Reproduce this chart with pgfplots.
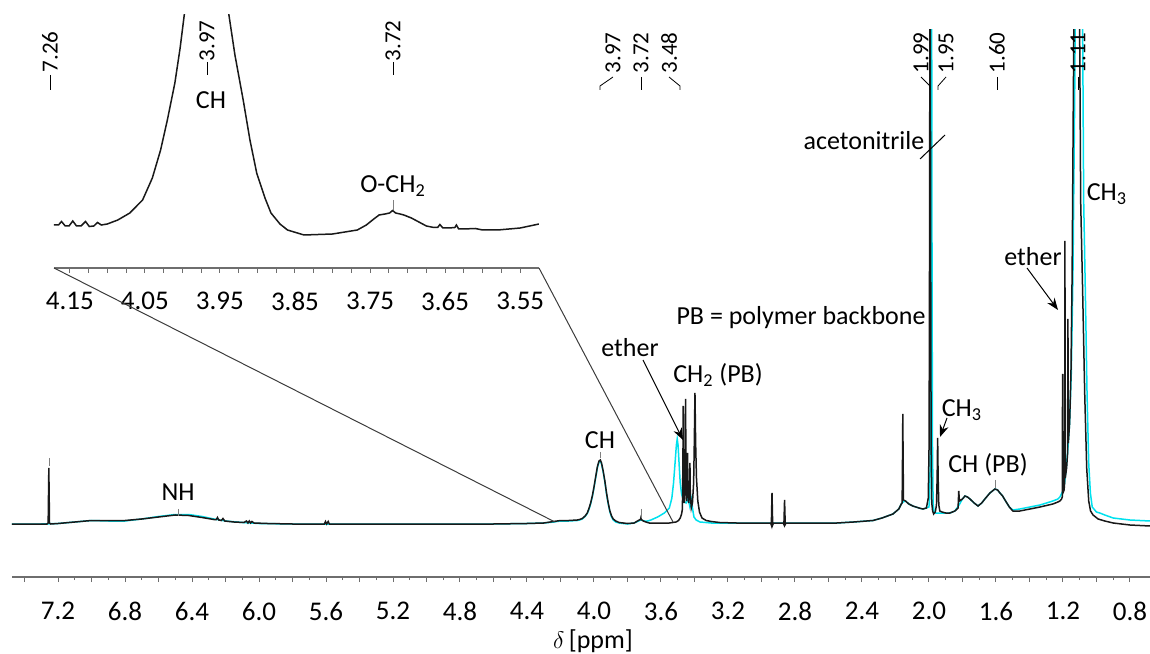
\documentclass[border=0pt]{standalone}
\usepackage{pgfplots}
\pgfplotsset{compat=1.18}
\usepackage{fontspec}
\setmainfont{Carlito}
\usetikzlibrary{arrows.meta}
\definecolor{specblack}{RGB}{25,25,25}
\definecolor{speccyan}{RGB}{0,225,238}
\definecolor{axgray}{RGB}{110,110,110}
\definecolor{zoomgray}{RGB}{60,60,60}
\begin{document}
\begin{tikzpicture}
\useasboundingbox (0,0) rectangle (575pt,326.5pt);
% ---------------- main spectrum ----------------
\begin{axis}[at={(6pt,38pt)}, anchor=south west, scale only axis,
  width=569pt, height=273.5pt,
  xmin=0.68, xmax=7.475, ymin=-54, ymax=493, x dir=reverse,
  axis x line=bottom, axis y line=none,
  axis line style={-, axgray, line width=0.6pt},
  tick align=outside,
  xtick={0.8,1.2,...,7.2}, minor x tick num=3,
  major tick length=2.5pt, minor tick length=1.5pt,
  every tick/.style={axgray, line width=0.5pt},
  xticklabel style={font=\fontsize{13.5}{15}\selectfont, inner sep=0pt,
    /pgf/number format/fixed, /pgf/number format/fixed zerofill,
    /pgf/number format/precision=1, /pgf/number format/assume math mode=true,
    yshift=-10pt},
  extra x ticks={1.0,1.4,...,7.4}, extra x tick labels={},
  extra x tick style={grid=none},
  clip=true]
\addplot[speccyan, line width=0.75pt] coordinates {
(7.475,-1)(7.30,-1)(7.20,-0.5)(7.10,1)(7.00,2.5)(6.90,2)(6.80,2)(6.70,4)(6.60,6.5)(6.50,8.5)(6.42,8.5)(6.34,6.5)(6.27,4)(6.20,2)(6.10,0.5)(6.00,-0.5)(5.80,-1)(5.40,-1)(5.00,-1)(4.60,-1)(4.40,-0.5)(4.30,0)(4.24,1)(4.20,2)(4.15,2)(4.10,2.5)(4.086,3)(4.07,4)(4.053,6.5)(4.04,9.5)(4.029,14)(4.02,19)(4.01,26)(4.00,35)(3.99,45)(3.98,55)(3.97,61)(3.962,62)(3.955,59)(3.945,51)(3.935,41)(3.925,29)(3.915,19)(3.905,11)(3.895,6)(3.885,3)(3.87,1)(3.85,0)(3.80,-1)(3.76,0)(3.74,1.5)(3.72,3)(3.70,2)(3.68,2)(3.66,3)(3.62,6)(3.58,10)(3.55,15)(3.535,25)(3.525,40)(3.515,62)(3.508,78)(3.503,84)(3.498,78)(3.492,60)(3.485,40)(3.477,29)(3.465,22)(3.45,20)(3.443,22)(3.437,26)(3.432,20)(3.427,16)(3.422,20)(3.417,24)(3.412,15)(3.403,6)(3.39,3)(3.367,1)(3.30,0)(3.00,0)(2.70,0)(2.55,0)(2.45,1)(2.334,2.5)(2.28,5)(2.215,9)(2.18,14)(2.165,19)(2.155,21)(2.14,22)(2.12,19)(2.096,17)(2.06,15)(2.036,14)(2.015,15)(2.0,16)(1.996,25)(1.991,80)(1.988,300)(1.985,700)(1.982,300)(1.979,80)(1.975,20)(1.97,12)(1.96,10)(1.94,10)(1.922,10)(1.90,10)(1.875,10)(1.845,12)(1.82,18)(1.80,24)(1.785,27)(1.77,26)(1.755,24)(1.73,20)(1.707,17)(1.685,20)(1.666,24)(1.636,30)(1.606,34)(1.59,33)(1.576,30)(1.56,27)(1.546,23)(1.52,16)(1.499,13)(1.457,14)(1.397,16)(1.337,18)(1.26,22)(1.23,24)(1.218,26)(1.20,32)(1.19,40)(1.18,55)(1.17,75)(1.16,100)(1.15,150)(1.14,250)(1.13,420)(1.124,560)(1.108,900)(1.082,490)(1.076,322)(1.066,230)(1.056,130)(1.046,60)(1.036,30)(1.025,16)(1.0,11)(0.98,10)(0.95,8)(0.90,5)(0.80,3)(0.68,2)
};
\addplot[specblack, line width=0.75pt] coordinates {
(7.475,-1)(7.40,-1)(7.30,-1)(7.266,-1)(7.259,0)(7.255,55)(7.251,0)(7.244,-1)(7.20,-0.5)(7.10,1)(7.00,2.5)(6.90,2.5)(6.80,2.5)(6.70,4)(6.60,6)(6.50,8)(6.42,7.5)(6.34,5.5)(6.27,3.5)(6.255,3.5)(6.248,5.5)(6.24,3)(6.225,2.5)(6.215,4.5)(6.205,2)(6.15,1)(6.09,0.5)(6.075,2)(6.066,0)(6.058,2)(6.05,0)(6.042,1.5)(6.03,0)(5.95,-0.5)(5.80,-1)(5.61,-1)(5.603,1.5)(5.596,-1)(5.587,1.5)(5.58,-1)(5.40,-1)(5.00,-1)(4.60,-1)(4.40,-0.5)(4.30,0)(4.24,1.5)(4.20,2.5)(4.15,2.5)(4.10,3)(4.086,3.5)(4.07,4.5)(4.053,7)(4.04,10)(4.029,15)(4.02,20)(4.01,27)(4.00,36)(3.99,46)(3.98,56)(3.97,62)(3.962,63)(3.955,60)(3.945,52)(3.935,42)(3.925,30)(3.915,20)(3.905,12)(3.895,7)(3.885,4)(3.87,2)(3.85,0.5)(3.80,-0.5)(3.76,0)(3.745,1.5)(3.73,3)(3.722,3.5)(3.72,5)(3.718,3.5)(3.705,2)(3.69,1)(3.67,0)(3.60,0)(3.55,0)(3.51,1)(3.495,2.5)(3.485,5)(3.477,9)(3.472,14)(3.469,60)(3.467,117)(3.465,60)(3.461,20)(3.457,30)(3.455,70)(3.453,124)(3.451,60)(3.447,22)(3.443,35)(3.441,70)(3.439,35)(3.434,20)(3.429,30)(3.427,60)(3.425,30)(3.419,15)(3.412,20)(3.405,40)(3.401,80)(3.397,130)(3.393,80)(3.388,45)(3.38,22)(3.37,11)(3.355,5)(3.33,2.5)(3.30,1.5)(3.25,0.5)(3.15,0)(3.00,0)(2.945,0)(2.941,-2)(2.937,30)(2.933,-2)(2.928,0)(2.87,0)(2.866,-1.5)(2.862,23)(2.858,-1.5)(2.853,0)(2.70,0)(2.55,0)(2.45,1)(2.334,2.5)(2.28,5)(2.215,9)(2.18,14)(2.165,19)(2.160,20)(2.158,60)(2.156,109)(2.154,60)(2.152,23)(2.14,22)(2.12,19)(2.096,17)(2.06,15)(2.036,14)(2.015,15)(2.004,25)(1.999,80)(1.996,300)(1.993,700)(1.990,300)(1.987,80)(1.983,20)(1.978,12)(1.972,9)(1.962,11)(1.955,18)(1.951,45)(1.948,85)(1.945,45)(1.941,18)(1.935,12)(1.922,11)(1.90,10)(1.875,10)(1.845,12)(1.826,15)(1.822,32)(1.818,22)(1.80,24)(1.785,27)(1.77,26)(1.755,24)(1.73,20)(1.707,17)(1.685,20)(1.666,24)(1.636,30)(1.606,34)(1.59,33)(1.576,30)(1.56,27)(1.546,23)(1.52,16)(1.499,12)(1.457,12)(1.397,14)(1.337,16)(1.26,19)(1.23,21)(1.218,22)(1.208,24)(1.204,26)(1.202,149)(1.200,30)(1.193,33)(1.190,40)(1.188,282)(1.186,45)(1.178,55)(1.172,70)(1.170,204)(1.168,80)(1.16,100)(1.152,150)(1.145,250)(1.138,420)(1.132,560)(1.116,900)(1.100,490)(1.094,322)(1.082,230)(1.070,130)(1.058,55)(1.046,22)(1.035,12)(1.02,8)(0.99,4)(0.95,2)(0.90,0)(0.80,-2)(0.68,-3)
};
\end{axis}
% ---------------- inset ----------------
\begin{axis}[at={(27pt,192.5pt)}, anchor=south west, scale only axis,
  width=242.5pt, height=126.5pt,
  xmin=3.525, xmax=4.171, ymin=-28, ymax=225, x dir=reverse,
  axis x line=bottom, axis y line=none,
  axis line style={-, axgray, line width=0.6pt},
  tick align=outside,
  xtick={3.55,3.65,3.75,3.85,3.95,4.05,4.15}, minor x tick num=3,
  major tick length=2.5pt, minor tick length=2.5pt,
  every tick/.style={axgray, line width=0.5pt},
  xticklabel style={font=\fontsize{13.5}{15}\selectfont,
    /pgf/number format/fixed, /pgf/number format/fixed zerofill,
    /pgf/number format/precision=2, /pgf/number format/assume math mode=true,
    yshift=-6pt},
  clip=true]
\addplot[specblack, line width=0.75pt] coordinates {
(4.171,15)(4.165,15)(4.161,18.5)(4.156,14)(4.151,14)(4.146,19)(4.141,14)(4.135,14)(4.129,18.5)(4.124,13.5)(4.118,14)(4.113,17.5)(4.108,15)(4.10,16)(4.086,20)(4.07,27)(4.053,40)(4.04,62)(4.029,90)(4.02,120)(4.01,157)(4.003,192)(3.997,228)(3.99,280)(3.98,340)(3.968,370)(3.955,340)(3.945,280)(3.938,225)(3.93,185)(3.919,140)(3.91,100)(3.901,67)(3.89,42)(3.882,27)(3.87,16)(3.86,10)(3.838,5)(3.80,6)(3.767,10)(3.755,15)(3.745,21)(3.738,25)(3.73,26)(3.724,27)(3.72,29.5)(3.716,27)(3.71,26)(3.705,25)(3.695,22)(3.685,18)(3.675,14)(3.665,12.5)(3.66,12.5)(3.657,15.5)(3.653,12)(3.645,12)(3.637,12.5)(3.635,15)(3.632,11)(3.625,11)(3.61,11.5)(3.60,10)(3.58,10)(3.55,12)(3.525,16)
};
\end{axis}
% ---------------- annotations (pixel frame) ----------------
\begin{scope}[x=0.5pt,y=-0.5pt,shift={(0pt,326.5pt)}, font=\fontsize{13}{15}\selectfont]
\draw[zoomgray, line width=0.5pt] (54,268) -- (555,522);
\draw[zoomgray, line width=0.5pt] (539,268) -- (673,522);
\draw[gray, line width=0.4pt] (49,458) -- (49,466);
\node at (178,492) {NH};
\draw[gray, line width=0.4pt] (178,509) -- (178,516);
\node at (600,440) {CH};
\draw[gray, line width=0.4pt] (600,452) -- (600,458);
\draw[gray, line width=0.4pt] (641,509) -- (641,517);
\node at (630,348) {ether};
\draw[line width=0.5pt, -{Stealth[length=6pt,width=4.5pt]}] (643,360) -- (683,440);
\node at (718,375) {CH\textsubscript{2} (PB)};
\node at (801,318) {PB = polymer backbone};
\node at (864,141) {acetonitrile};
\draw[line width=0.5pt] (920,159) -- (945,135);
\node at (962,410) {CH\textsubscript{3}};
\draw[line width=0.5pt, -{Stealth[length=6pt,width=4.5pt]}] (947,418) -- (940,437);
\node at (988,465) {CH (PB)};
\draw[gray, line width=0.4pt] (995,480) -- (995,488);
\node at (1033,257) {ether};
\draw[line width=0.5pt, -{Stealth[length=6pt,width=4.5pt]}] (1027,268) -- (1058,310);
\node at (1107,194) {CH\textsubscript{3}};
\node at (211,100) {CH};
\node at (393,186) {O-CH\textsubscript{2}};
\draw[gray, line width=0.4pt] (393,200) -- (393,210);
\begin{scope}[font=\fontsize{11.5}{13}\selectfont]
\node[rotate=90] at (50,52) {7.26}; \draw[line width=0.4pt] (50,75) -- (50,90);
\node[rotate=90] at (207,41) {3.97}; \draw[line width=0.4pt] (207,62) -- (207,75);
\node[rotate=90] at (393,41) {3.72}; \draw[line width=0.4pt] (393,62) -- (393,75);
\node[rotate=90] at (613,53) {3.97}; \draw[line width=0.4pt] (613,77) -- (600,86) -- (600,90);
\node[rotate=90] at (641,53) {3.72}; \draw[line width=0.4pt] (641,77) -- (641,90);
\node[rotate=90] at (669,53) {3.48}; \draw[line width=0.4pt] (669,77) -- (680,86) -- (680,90);
\node[rotate=90] at (921,53) {1.99}; \draw[line width=0.4pt] (921,77) -- (930,86) -- (930,90);
\node[rotate=90] at (946,53) {1.95}; \draw[line width=0.4pt] (946,77) -- (938,86) -- (938,90);
\node[rotate=90] at (997,53) {1.60}; \draw[line width=0.4pt] (997,77) -- (997,90);
\node[rotate=90] at (1078,53) {1.11}; \draw[line width=0.4pt] (1078,77) -- (1078,90);
\end{scope}
\node[font=\fontsize{13}{15}\selectfont, inner sep=0pt] at (593,641) {$\delta$\,[ppm]};
\end{scope}
\end{tikzpicture}
\end{document}
